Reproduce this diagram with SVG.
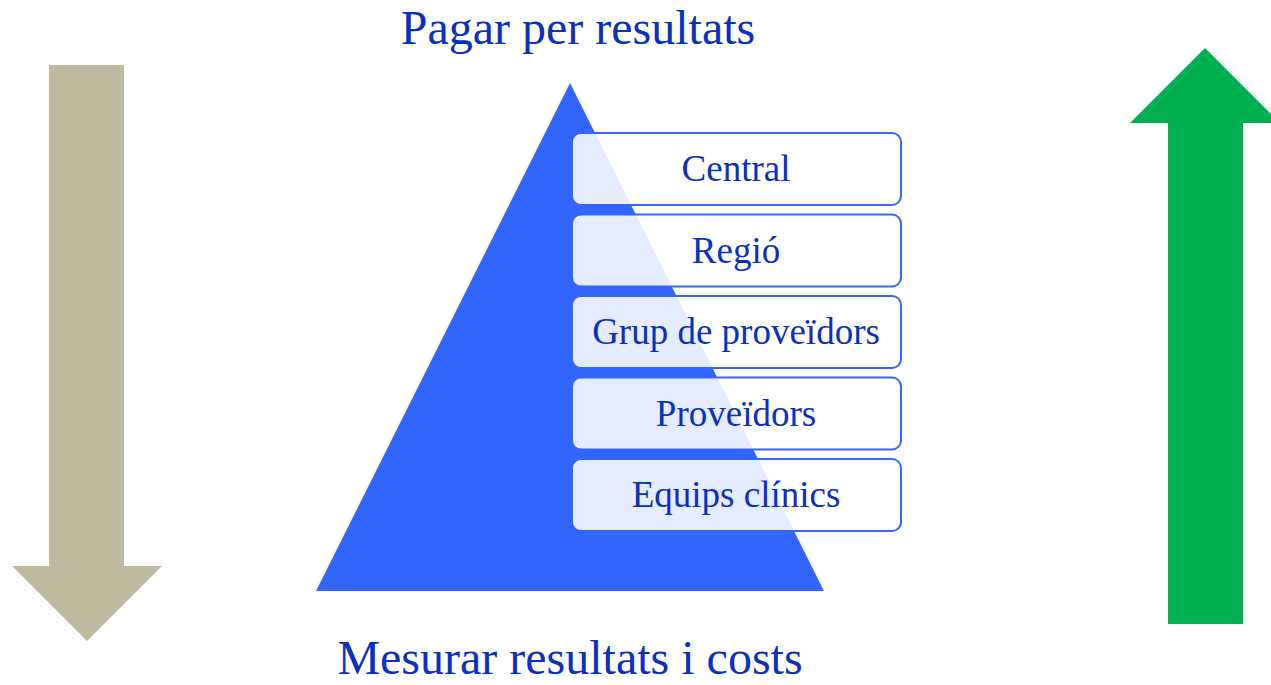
<svg xmlns="http://www.w3.org/2000/svg" width="1271" height="685" viewBox="0 0 1271 685">
<style>
.t{font-family:"Liberation Serif","Times New Roman",serif;fill:#0b2fc0}
.box{fill:#ffffff;fill-opacity:0.88;stroke:#3366ff;stroke-width:2}
.lbl{font-size:37px;text-anchor:middle}
.title{font-size:48px;text-anchor:middle}
</style>
<rect width="1271" height="685" fill="#ffffff"/>
<g id="arrow-down">
<polygon points="49,65 124,65 124,566 162,566 87,641 12,566 49,566" fill="#bebaa0"/>
</g>
<g id="arrow-up">
<polygon points="1168,624 1243,624 1243,123 1280,123 1205,48 1130,123 1168,123" fill="#00b050"/>
</g>
<g id="pyramid">
<polygon points="570,83 824,591 316,591" fill="#3366ff"/>
</g>
<g id="title-top"><text class="t title" x="578" y="44">Pagar per resultats</text></g>
<g id="title-bottom"><text class="t title" x="570" y="674">Mesurar resultats i costs</text></g>
<g id="n-central"><rect class="box" x="572" y="133" width="329" height="72" rx="9"/><text class="t lbl" x="736" y="181">Central</text></g>
<g id="n-regio"><rect class="box" x="572" y="214.5" width="329" height="72" rx="9"/><text class="t lbl" x="736" y="262.5">Regió</text></g>
<g id="n-grup"><rect class="box" x="572" y="296" width="329" height="72" rx="9"/><text class="t lbl" x="736" y="344">Grup de proveïdors</text></g>
<g id="n-proveidors"><rect class="box" x="572" y="377.5" width="329" height="72" rx="9"/><text class="t lbl" x="736" y="425.5">Proveïdors</text></g>
<g id="n-equips"><rect class="box" x="572" y="459" width="329" height="72" rx="9"/><text class="t lbl" x="736" y="507">Equips clínics</text></g>
<g id="connectors"></g>
</svg>
